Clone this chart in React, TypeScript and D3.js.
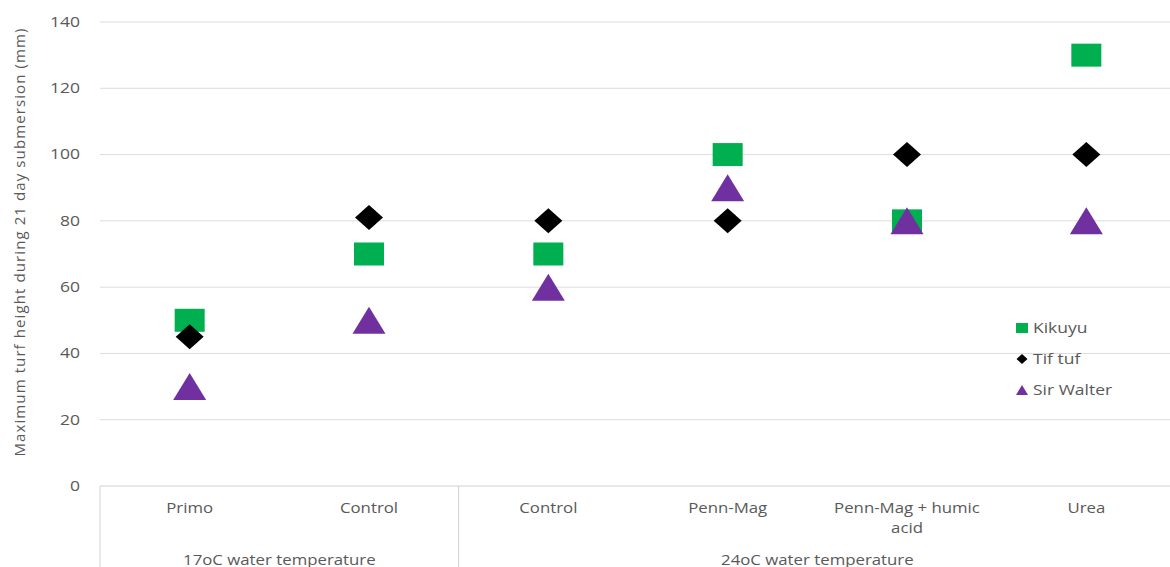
import React from "react";
import * as d3 from "d3";

const categories = ["Primo", "Control", "Control", "Penn-Mag", "Penn-Mag + humic acid", "Urea"];
const categoryLines = [["Primo"], ["Control"], ["Control"], ["Penn-Mag"], ["Penn-Mag + humic", "acid"], ["Urea"]];
const groups = [
  { label: "17oC water temperature", start: 0, end: 2 },
  { label: "24oC water temperature", start: 2, end: 6 },
];
const kikuyu = [50, 70, 70, 100, 80, 130];
const tiftuf = [45, 81, 80, 80, 100, 100];
const sirWalter = [30, 50, 60, 90, 80, 80];
const yTicks = [0, 20, 40, 60, 80, 100, 120, 140];
const seriesNames = ["Kikuyu", "Tif tuf", "Sir Walter"];
const seriesColors = ["#00B050", "#000000", "#7030A0"];

const W = 1170;
const H = 567;
const left = 100;
const right = 1176;
const top = 22;
const bottom = 486;

const font = "'Open Sans', 'DejaVu Sans', sans-serif";
const textColor = "#595959";

function SText({ x, y, sx = 1.2, anchor = "middle", size = 14, dy = "0", children }: any) {
  return (
    <g transform={`translate(${x},${y}) scale(${sx},1)`}>
      <text x={0} y={0} dy={dy} textAnchor={anchor} fontSize={size} fill={textColor}>
        {children}
      </text>
    </g>
  );
}

function Square({ x, y, w, h, color }: any) {
  return <rect x={x - w / 2} y={y - h / 2} width={w} height={h} fill={color} />;
}
function Diamond({ x, y, w, h, color }: any) {
  return (
    <path
      d={`M${x},${y - h / 2}L${x + w / 2},${y}L${x},${y + h / 2}L${x - w / 2},${y}Z`}
      fill={color}
    />
  );
}
function Triangle({ x, y, w, h, color }: any) {
  return (
    <path d={`M${x},${y - h / 2}L${x + w / 2},${y + h / 2}L${x - w / 2},${y + h / 2}Z`} fill={color} />
  );
}

export default function App() {
  const x = d3.scaleBand<number>().domain(d3.range(categories.length)).range([left, right]);
  const y = d3.scaleLinear().domain([0, 140]).range([bottom, top]);
  const cx = (i: number) => (x(i) as number) + x.bandwidth() / 2;
  const edge = (i: number) => (i === categories.length ? right : (x(i) as number));

  return (
    <svg
      width={W}
      height={H}
      style={{ position: "absolute", left: 0, top: 0, background: "#fff" }}
      fontFamily={font}
    >
      {yTicks.map((t) => (
        <g key={t}>
          <line
            x1={left}
            x2={right}
            y1={y(t)}
            y2={y(t)}
            stroke={t === 0 ? "#d0d0d0" : "#dcdcdc"}
            strokeWidth={1}
          />
          <SText x={80} y={y(t)} dy="0.35em" anchor="end" size={14} sx={1.25}>
            {t}
          </SText>
        </g>
      ))}
      {[0, 2, 6].map((i) => {
        const xx = edge(i);
        return <line key={i} x1={xx} x2={xx} y1={bottom} y2={H} stroke="#d0d0d0" />;
      })}
      <text
        transform={`translate(25,${242}) rotate(-90)`}
        textAnchor="middle"
        fontSize={15}
        letterSpacing={1.1}
        fill={textColor}
      >
        Maximum turf height during 21 day submersion (mm)
      </text>
      {categoryLines.map((lines, i) =>
        lines.map((l, j) => (
          <SText key={i + "-" + j} x={cx(i)} y={513 + j * 20} size={14}>
            {l}
          </SText>
        ))
      )}
      {groups.map((g) => {
        const gx = (edge(g.start) + edge(g.end)) / 2;
        return (
          <SText key={g.label} x={gx} y={565} size={14}>
            {g.label}
          </SText>
        );
      })}
      {kikuyu.map((v, i) => (
        <Square key={"k" + i} x={cx(i)} y={y(v)} w={30} h={23} color={seriesColors[0]} />
      ))}
      {tiftuf.map((v, i) => (
        <Diamond key={"t" + i} x={cx(i)} y={y(v)} w={28} h={25} color={seriesColors[1]} />
      ))}
      {sirWalter.map((v, i) => (
        <Triangle key={"s" + i} x={cx(i)} y={y(v)} w={33} h={27} color={seriesColors[2]} />
      ))}
      {seriesNames.map((n, i) => {
        const ly = 328 + i * 31;
        return (
          <g key={n}>
            {i === 0 && <Square x={1022} y={ly} w={12} h={10} color={seriesColors[0]} />}
            {i === 1 && <Diamond x={1022} y={ly} w={11} h={10} color={seriesColors[1]} />}
            {i === 2 && <Triangle x={1022} y={ly} w={12} h={10} color={seriesColors[2]} />}
            <SText x={1033} y={ly} dy="0.35em" anchor="start" size={14} sx={1.25}>
              {n}
            </SText>
          </g>
        );
      })}
    </svg>
  );
}
